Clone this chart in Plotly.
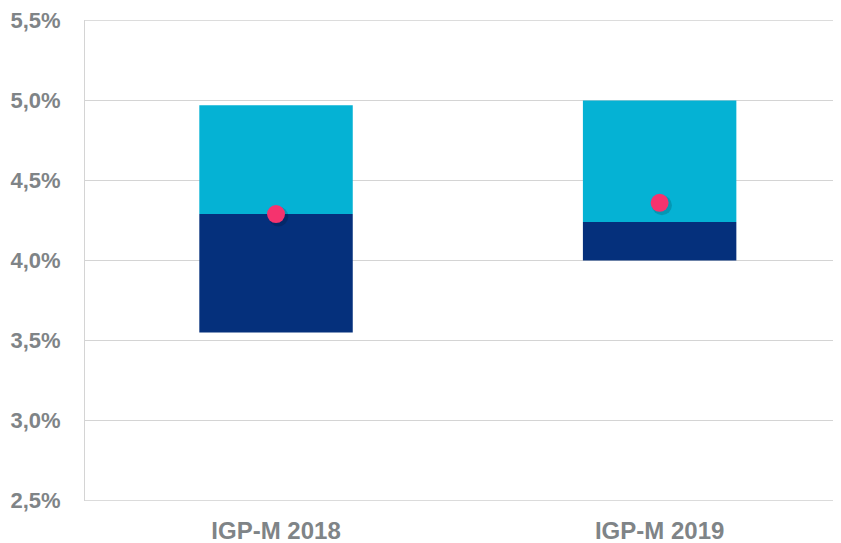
import plotly.graph_objects as go

categories = ["IGP-M 2018", "IGP-M 2019"]
low_values = [3.55, 4.00]
mid_values = [4.29, 4.24]
high_values = [4.97, 5.00]
point_values = [4.29, 4.36]
y_ticks = [2.5, 3.0, 3.5, 4.0, 4.5, 5.0, 5.5]
y_tick_labels = ["2,5%", "3,0%", "3,5%", "4,0%", "4,5%", "5,0%", "5,5%"]

x_pos = list(range(len(categories)))
dark_heights = [m - l for m, l in zip(mid_values, low_values)]
light_heights = [h - m for h, m in zip(high_values, mid_values)]

FONT = "Liberation Sans, Arial, sans-serif"
GRID = "#D4D4D4"

fig = go.Figure()
fig.add_trace(go.Bar(x=x_pos, y=dark_heights, base=low_values, width=0.4,
                     marker=dict(color="#05307C", line=dict(width=0)), hoverinfo="skip"))
fig.add_trace(go.Bar(x=x_pos, y=light_heights, base=mid_values, width=0.4,
                     marker=dict(color="#05B2D4", line=dict(width=0)), hoverinfo="skip"))
# soft shadow for the dots
fig.add_trace(go.Scatter(x=[p + 0.006 for p in x_pos], y=[v - 0.015 for v in point_values],
                         mode="markers", marker=dict(size=20, color="rgba(0,0,0,0.15)"),
                         hoverinfo="skip"))
fig.add_trace(go.Scatter(x=x_pos, y=point_values, mode="markers",
                         marker=dict(size=18, color="#F5336E"), hoverinfo="skip"))

# gridlines at the two edges of the range
for yv in (y_ticks[0], y_ticks[-1]):
    fig.add_shape(type="line", xref="paper", x0=0, x1=1, yref="y", y0=yv, y1=yv,
                  line=dict(color=GRID, width=1), layer="below")

# page body has an 8px margin, so the figure is sized/offset to compensate
fig.update_layout(
    width=833, height=535,
    margin=dict(l=77, r=3, t=12, b=42, autoexpand=False),
    paper_bgcolor="white", plot_bgcolor="white",
    showlegend=False, barmode="overlay",
    font=dict(family=FONT, color="#7F8487"),
)
fig.update_xaxes(
    range=[-0.498, 1.465], tickmode="array", tickvals=x_pos,
    ticktext=["<b>" + c + "</b>" for c in categories],
    showgrid=False, zeroline=False, showline=False, automargin=False,
    tickfont=dict(size=24, color="#7F8487", family=FONT),
    ticks="outside", ticklen=8, tickcolor="rgba(0,0,0,0)",
)
fig.update_yaxes(
    range=[2.498, 5.502], tickmode="array", tickvals=y_ticks,
    ticktext=["<b>" + t + "</b>" for t in y_tick_labels],
    showgrid=True, gridcolor=GRID, gridwidth=1, zeroline=False,
    showline=True, linecolor=GRID, linewidth=1, automargin=False,
    tickfont=dict(size=22, color="#7F8487", family=FONT),
    ticks="outside", ticklen=19, tickcolor="rgba(0,0,0,0)",
)
fig.write_html("out.html")
